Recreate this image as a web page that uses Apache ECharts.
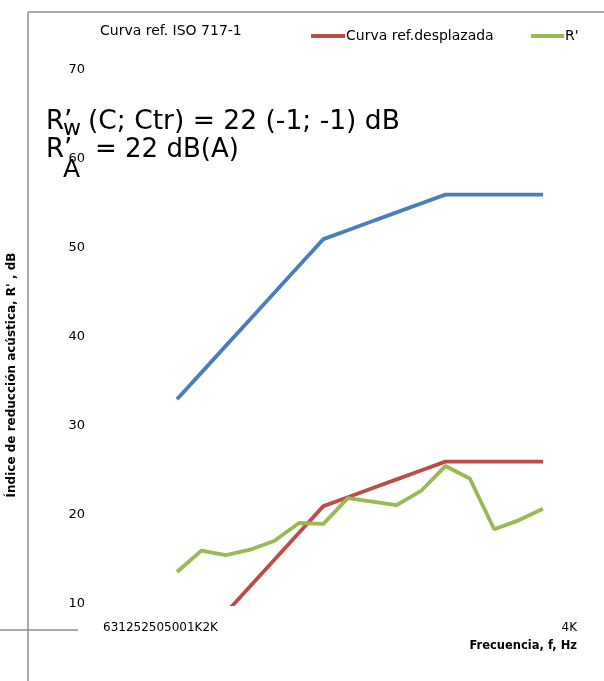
<!DOCTYPE html>
<html>
<head>
<meta charset="utf-8">
<script src="https://cdn.jsdelivr.net/npm/echarts@6/dist/echarts.min.js"></script>
<style>
  html, body { margin: 0; padding: 0; background: #fff; }
  #chart { width: 604px; height: 681px; }
</style>
</head>
<body>
<div id="chart"></div>
<script type="text/javascript">
  // bandas de tercio de octava, 100 Hz - 3150 Hz
  var frecuencias = ['100', '125', '160', '200', '250', '315', '400', '500', '630', '800', '1000', '1250', '1600', '2000', '2500', '3150'];
  var etiquetasOctava = ['63', '125', '250', '500', '1K', '2K', '4K'];
  var curvaRef = [33, 36, 39, 42, 45, 48, 51, 52, 53, 54, 55, 56, 56, 56, 56, 56];
  var curvaDesplazada = [3, 6, 9, 12, 15, 18, 21, 22, 23, 24, 25, 26, 26, 26, 26, 26];
  var rPrima = [13.6, 16.0, 15.5, 16.1, 17.1, 19.1, 19.0, 21.9, 21.5, 21.1, 22.7, 25.5, 24.1, 18.4, 19.4, 20.7];
  var ejeY = { min: 10, max: 70, interval: 10 };

  var fuente = '"DejaVu Sans"';
  var gris = '#8c8c8c';

  var myChart = echarts.init(document.getElementById('chart'));

  function leyenda(nombre, left, top, ancho, oculto) {
    return {
      data: [{ name: nombre, itemStyle: { opacity: oculto ? 0 : 1 } }],
      left: left,
      top: top,
      icon: 'rect',
      itemWidth: ancho,
      itemHeight: 4,
      itemGap: 0,
      padding: 0,
      textStyle: { fontFamily: fuente, fontSize: 14, color: '#000', padding: [0, 0, 0, -4] },
      selectedMode: false
    };
  }

  var option = {
    animation: false,
    backgroundColor: '#fff',
    legend: [
      leyenda('Curva ref. ISO 717-1', 65, 24, 34, true),
      leyenda('Curva ref.desplazada', 311, 29, 34, false),
      leyenda("R'", 531, 29, 33, false)
    ],
    grid: {
      left: 177,
      right: 61,
      top: 70,
      bottom: 77
    },
    xAxis: {
      type: 'category',
      boundaryGap: false,
      data: frecuencias,
      axisLine: { show: false },
      axisTick: { show: false },
      axisLabel: { show: false },
      splitLine: { show: false }
    },
    yAxis: {
      type: 'value',
      min: ejeY.min,
      max: ejeY.max,
      interval: ejeY.interval,
      axisLine: { show: false },
      axisTick: { show: false },
      splitLine: { show: false },
      axisLabel: { margin: 92, fontFamily: fuente, fontSize: 13, color: '#000', padding: [3, 0, 0, 0] }
    },
    series: [
      {
        name: 'Curva ref. ISO 717-1',
        type: 'line',
        data: curvaRef,
        showSymbol: false,
        itemStyle: { color: '#4a7ebb' },
        lineStyle: { color: '#4a7ebb', width: 3.8 }
      },
      {
        name: 'Curva ref.desplazada',
        type: 'line',
        data: curvaDesplazada,
        showSymbol: false,
        itemStyle: { color: '#be4b48' },
        lineStyle: { color: '#be4b48', width: 3.8 }
      },
      {
        name: "R'",
        type: 'line',
        data: rPrima,
        showSymbol: false,
        itemStyle: { color: '#98b954' },
        lineStyle: { color: '#98b954', width: 3.8 }
      }
    ],
    graphic: [
      // marco
      { type: 'line', shape: { x1: 28, y1: 12, x2: 604, y2: 12 }, style: { stroke: gris, lineWidth: 1.5 } },
      { type: 'line', shape: { x1: 28, y1: 12, x2: 28, y2: 681 }, style: { stroke: gris, lineWidth: 1.5 } },
      { type: 'line', shape: { x1: 0, y1: 630, x2: 78, y2: 630 }, style: { stroke: gris, lineWidth: 1.5 } },
      // textos de resultado
      { type: 'text', left: 46, top: 109, style: { text: 'R’', font: '26px ' + fuente, fill: '#000' } },
      { type: 'text', left: 63, top: 118, style: { text: 'w', font: '22px ' + fuente, fill: '#000' } },
      { type: 'text', left: 88, top: 109, style: { text: '(C; Ctr) = 22 (-1; -1) dB', font: '26.5px ' + fuente, fill: '#000' } },
      { type: 'text', left: 46, top: 137, style: { text: 'R’', font: '26px ' + fuente, fill: '#000' } },
      { type: 'text', left: 63, top: 158, style: { text: 'A', font: '25px ' + fuente, fill: '#000' } },
      { type: 'text', left: 95, top: 137, style: { text: '= 22 dB(A)', font: '26px ' + fuente, fill: '#000' } },
      // etiquetas del eje x
      { type: 'text', left: 103, top: 622, style: { text: etiquetasOctava.slice(0, 6).join(''), font: '12px ' + fuente, fill: '#000' } },
      { type: 'text', right: 27, top: 622, style: { text: etiquetasOctava[6], font: '12px ' + fuente, fill: '#000' } },
      { type: 'text', right: 27, top: 640, style: { text: 'Frecuencia, f, Hz', font: 'bold 11.5px ' + fuente, fill: '#000' } },
      // titulo eje y
      {
        type: 'text', x: 12, y: 375, rotation: Math.PI / 2,
        style: { text: "Índice de reducción acústica, R' , dB", font: 'bold 12px ' + fuente, fill: '#000', align: 'center', verticalAlign: 'middle' }
      }
    ]
  };
  myChart.setOption(option);
</script>
</body>
</html>
